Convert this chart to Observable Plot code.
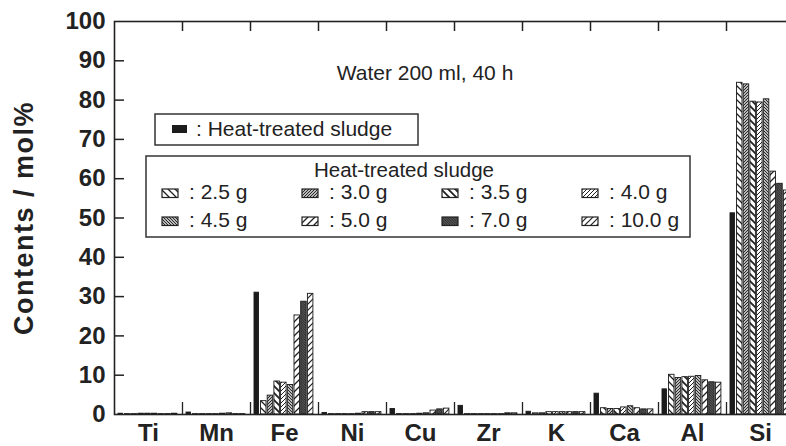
<!DOCTYPE html>
<html><head><meta charset="utf-8">
<script src="https://cdn.jsdelivr.net/npm/d3@7"></script>
<script src="https://cdn.jsdelivr.net/npm/@observablehq/plot@0.6"></script>
<style>body{margin:0;background:#fff} svg{display:block}</style>
</head><body><div id="chart"></div>
<script>
// ---- data ----
const elements = ["Ti","Mn","Fe","Ni","Cu","Zr","K","Ca","Al","Si"];
const seriesNames = ["Heat-treated sludge","2.5 g","3.0 g","3.5 g","4.0 g","4.5 g","5.0 g","7.0 g","10.0 g"];
const sludge = [0.2, 0.5, 31.0, 0.4, 1.4, 2.2, 0.7, 5.3, 6.4, 51.2];
const g25  = [0.1, 0.1, 3.4, 0.1, 0.1, 0.1, 0.3, 1.6, 10.1, 84.4];
const g30  = [0.1, 0.1, 4.8, 0.1, 0.1, 0.1, 0.3, 1.4, 9.3, 84.0];
const g35  = [0.2, 0.1, 8.4, 0.1, 0.1, 0.1, 0.6, 1.4, 9.5, 79.6];
const g40  = [0.2, 0.1, 8.1, 0.1, 0.2, 0.1, 0.6, 1.8, 9.6, 79.4];
const g45  = [0.2, 0.2, 7.5, 0.2, 0.3, 0.1, 0.6, 2.1, 9.8, 80.2];
const g50  = [0.1, 0.3, 25.2, 0.6, 1.0, 0.1, 0.6, 1.6, 8.7, 61.8];
const g70  = [0.1, 0.1, 28.7, 0.6, 1.3, 0.3, 0.6, 1.3, 8.2, 58.7];
const g100 = [0.2, 0.1, 30.7, 0.6, 1.5, 0.3, 0.6, 1.3, 8.1, 57.0];
const yTicks = [0,10,20,30,40,50,60,70,80,90,100];
const seriesValues = [sludge, g25, g30, g35, g40, g45, g50, g70, g100];

// ---- layout / style ----
const GROUP_PX = 68;
const slots = [[4, 8.5]].concat(d3.range(8).map(k => [10.5 + 6.7*k, 16 + 6.7*k]));
const fills = ["#1c1c1c","url(#p25)","url(#p30)","url(#p35)","url(#p40)","url(#p45)","url(#p50)","url(#p70)","url(#p100)"];
const FONT = "'Liberation Sans', Arial, Helvetica, sans-serif";

const table = elements.flatMap((el, i) => seriesValues.map((vals, s) => ({element: el, gi: i, s, value: vals[i]})));
const bounds = d3.range(1, elements.length);
const inner = yTicks.slice(1, -1);
const plotW = 680, plotH = 393;

const barMarks = seriesValues.map((_, s) => Plot.rect(table.filter(d => d.s === s), {
  x1: d => d.gi + slots[s][0] / GROUP_PX,
  x2: d => d.gi + slots[s][1] / GROUP_PX,
  y1: d => 0,
  y2: "value",
  fill: fills[s],
  stroke: "#1a1a1a",
  strokeWidth: 0.9
}));

const svg = Plot.plot({
  width: 786, height: 446,
  marginLeft: 114, marginRight: -8, marginTop: 21, marginBottom: 32,
  style: {fontFamily: FONT, fontSize: "24px", fontWeight: "bold", color: "#222", background: "#fff"},
  x: {type: "linear", domain: [0, elements.length], ticks: elements.map((_, i) => i + 0.5),
      tickFormat: v => elements[Math.floor(v)], tickSize: 0, tickPadding: 9, label: null},
  y: {domain: [0, 100], ticks: yTicks, tickSize: 0, tickPadding: 9, label: null},
  marks: [
    ...barMarks,
    Plot.ruleY(inner, {insetRight: plotW - 10, stroke: "#222", strokeWidth: 1.5}),
    Plot.ruleX(bounds, {insetBottom: plotH - 10, stroke: "#222", strokeWidth: 1.5}),
    Plot.ruleX(bounds, {insetTop: plotH - 12, stroke: "#222", strokeWidth: 1.3}),
    Plot.frame({stroke: "#222", strokeWidth: 1.6}),
    Plot.text(["Contents / mol%"], {frameAnchor: "left", textAnchor: "middle", dx: -90, rotate: -90, fontSize: 27, fontWeight: "bold", fill: "#222"})
  ]
});
document.getElementById("chart").appendChild(svg);

const root = d3.select(svg);
root.selectAll("text").filter(function(){ return this.textContent === "Contents / mol%"; }).style("letter-spacing", "1.5px");

// patterns
const defs = root.insert("defs", ":first-child");
function pat(id, size, dir, sw) {
  const p = defs.append("pattern").attr("id", id).attr("patternUnits", "userSpaceOnUse").attr("width", size).attr("height", size);
  p.append("rect").attr("width", size).attr("height", size).attr("fill", "#fff");
  const s = size;
  const d = dir === "b"
    ? `M0,0L${s},${s}M${-s/2},${s/2}L${s/2},${s*1.5}M${s/2},${-s/2}L${s*1.5},${s/2}`
    : `M0,${s}L${s},0M${-s/2},${s/2}L${s/2},${-s/2}M${s/2},${s*1.5}L${s*1.5},${s/2}`;
  p.append("path").attr("d", d).attr("stroke", "#222").attr("stroke-width", sw);
}
pat("p25", 7, "b", 1.3);
pat("p30", 3, "f", 1.2);
pat("p35", 7, "b", 1.8);
pat("p40", 4, "f", 1.0);
pat("p45", 3, "b", 1.2);
pat("p50", 7, "f", 1.3);
pat("p70", 2.5, "b", 1.5);
pat("p100", 6, "f", 1.2);

// annotations: title and legends
const ann = root.append("g").attr("font-family", FONT).attr("font-weight", "normal").attr("fill", "#222")
  .attr("font-size", 21).attr("text-anchor", "start");
ann.append("text").attr("x", 425).attr("y", 80).attr("text-anchor", "middle").text("Water 200 ml, 40 h");

const box1 = ann.append("g");
box1.append("rect").attr("x", 155).attr("y", 114).attr("width", 263).attr("height", 31).attr("fill", "#fff").attr("stroke", "#333").attr("stroke-width", 1.5);
box1.append("rect").attr("x", 172).attr("y", 125).attr("width", 15).attr("height", 8).attr("fill", fills[0]);
box1.append("text").attr("x", 196).attr("y", 136).text(": " + seriesNames[0]);

const box2 = ann.append("g");
box2.append("rect").attr("x", 146).attr("y", 156).attr("width", 544).attr("height", 81).attr("fill", "#fff").attr("stroke", "#333").attr("stroke-width", 1.5);
box2.append("text").attr("x", 404).attr("y", 177).attr("font-size", 20.5).attr("text-anchor", "middle").text(seriesNames[0]);
seriesNames.slice(1).forEach((name, k) => {
  const col = k % 4, row = Math.floor(k / 4);
  const sx = 162 + 140 * col, sy = 189 + 28 * row;
  box2.append("rect").attr("x", sx).attr("y", sy).attr("width", 16).attr("height", 8.5)
    .attr("fill", fills[k + 1]).attr("stroke", "#222").attr("stroke-width", 1.2);
  box2.append("text").attr("x", sx + 27).attr("y", sy + 9.5).text(": " + name);
});
</script>
</body></html>
